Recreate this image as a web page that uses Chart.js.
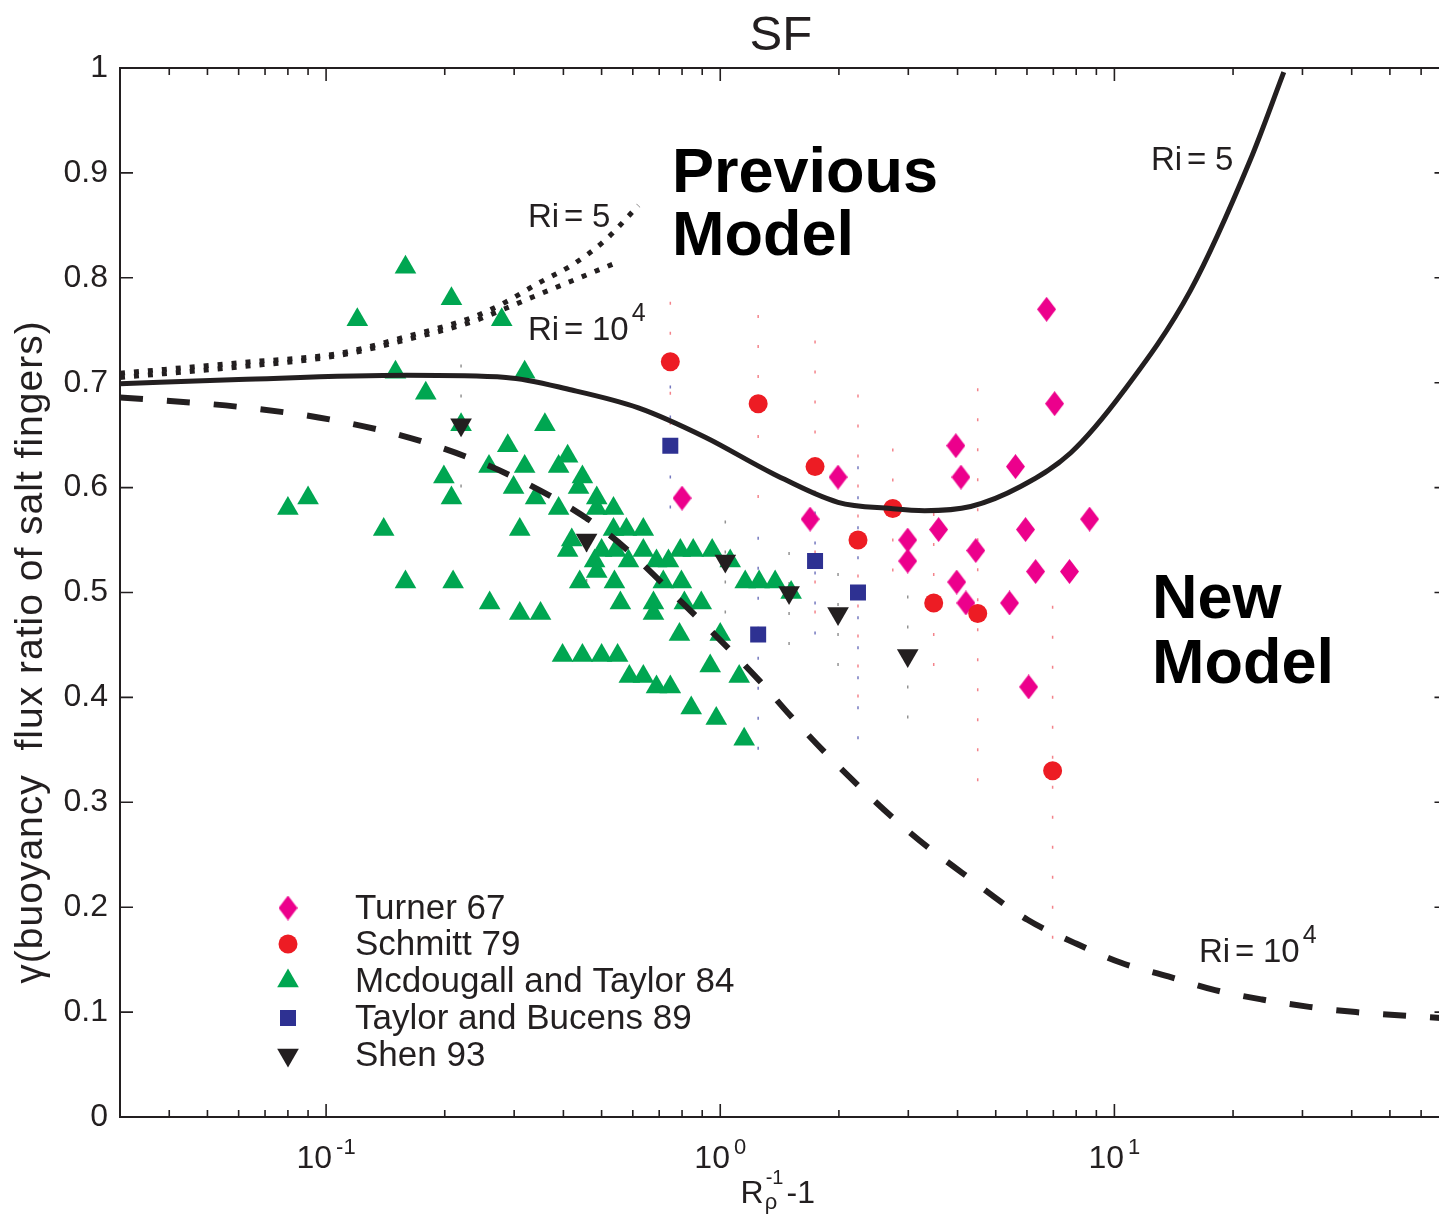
<!DOCTYPE html>
<html>
<head>
<meta charset="utf-8">
<title>SF</title>
<script src="https://cdn.jsdelivr.net/npm/chart.js@4.4.1/dist/chart.umd.min.js"></script>
<style>
  html, body { margin: 0; padding: 0; background: #ffffff; overflow: hidden; }
  #wrap { width: 1439px; height: 1215px; overflow: hidden; position: relative; }
  #sf { position: absolute; left: 0; top: 0; }
</style>
</head>
<body>
<div id="wrap"><canvas id="sf" width="1460" height="1215"></canvas></div>
<script>
// Salt finger flux ratio vs R_rho^-1 - 1 (log x)

// --- data ---
// New model curves
const newRi5X = [0.030, 0.060, 0.160, 0.286, 0.420, 0.620, 0.916, 1.35, 1.99, 2.71, 3.30, 4.32, 5.78, 7.74, 10.6, 15.6, 22.1, 26.9];
const newRi5Y = [0.699, 0.703, 0.707, 0.705, 0.693, 0.676, 0.648, 0.614, 0.586, 0.580, 0.578, 0.582, 0.601, 0.633, 0.693, 0.788, 0.912, 0.996];

const newRi1e4X = [0.030, 0.060, 0.102, 0.175, 0.303, 0.511, 0.797, 1.25, 1.52, 2.00, 3.03, 4.10, 6.02, 7.92, 10.4, 13.7, 18.0, 23.7, 31.2, 41.0, 70.0];
const newRi1e4Y = [0.686, 0.677, 0.665, 0.644, 0.609, 0.558, 0.491, 0.417, 0.381, 0.334, 0.271, 0.233, 0.188, 0.166, 0.147, 0.134, 0.121, 0.112, 0.105, 0.100, 0.094];

// Previous model curves (dotted)
const prevRi5X = [0.030, 0.060, 0.108, 0.160, 0.234, 0.286, 0.346, 0.420, 0.511, 0.620];
const prevRi5Y = [0.709, 0.719, 0.728, 0.744, 0.762, 0.777, 0.795, 0.812, 0.836, 0.869];
const prevRi1e4X = [0.030, 0.060, 0.108, 0.160, 0.234, 0.286, 0.346, 0.420, 0.542];
const prevRi1e4Y = [0.705, 0.715, 0.726, 0.741, 0.758, 0.771, 0.784, 0.797, 0.814];

// Lab data
const turnerX = [6.73, 7.05, 3.96, 5.61, 4.08, 1.99, 0.80, 1.69, 8.65, 3.58, 5.95, 2.99, 4.45, 2.99, 6.31, 7.69, 3.98, 4.20, 5.42, 6.06];
const turnerY = [0.77, 0.68, 0.64, 0.62, 0.61, 0.61, 0.59, 0.57, 0.57, 0.56, 0.56, 0.55, 0.54, 0.53, 0.52, 0.52, 0.51, 0.49, 0.49, 0.41];

const schmittX = [0.747, 1.248, 1.74, 2.236, 2.74, 3.48, 4.50, 6.97];
const schmittY = [0.72, 0.68, 0.62, 0.55, 0.58, 0.49, 0.48, 0.33];

const mcdX = [
  0.080, 0.090, 0.120, 0.140, 0.150, 0.159, 0.159, 0.179, 0.199, 0.208,
  0.208, 0.210, 0.220, 0.259, 0.260, 0.279, 0.289, 0.299, 0.310, 0.310,
  0.319, 0.319, 0.340, 0.350, 0.359, 0.389, 0.389, 0.398, 0.410, 0.410,
  0.420, 0.437, 0.440, 0.447, 0.447, 0.480, 0.486, 0.486, 0.486, 0.500,
  0.500, 0.536, 0.536, 0.539, 0.543, 0.549, 0.558, 0.578, 0.585, 0.588,
  0.638, 0.638, 0.638, 0.677, 0.677, 0.689, 0.689, 0.717, 0.739, 0.747,
  0.792, 0.797, 0.788, 0.811, 0.844, 0.854, 0.895, 0.943, 0.954, 0.977,
  1.000, 1.060, 1.117, 1.150, 1.157, 1.255, 1.378, 1.513
];
const mcdY = [
  0.58, 0.59, 0.76, 0.56, 0.71, 0.81, 0.51, 0.69, 0.61, 0.78,
  0.59, 0.51, 0.66, 0.62, 0.49, 0.76, 0.64, 0.60, 0.56, 0.48,
  0.71, 0.62, 0.59, 0.48, 0.66, 0.62, 0.58, 0.44, 0.63, 0.54,
  0.55, 0.60, 0.51, 0.61, 0.44, 0.53, 0.59, 0.58, 0.52, 0.54,
  0.44, 0.58, 0.56, 0.51, 0.54, 0.44, 0.49, 0.56, 0.53, 0.42,
  0.56, 0.54, 0.42, 0.49, 0.48, 0.53, 0.41, 0.51, 0.53, 0.41,
  0.54, 0.51, 0.46, 0.49, 0.39, 0.54, 0.49, 0.43, 0.54, 0.38,
  0.46, 0.53, 0.42, 0.36, 0.51, 0.51, 0.51, 0.50
];

const taylorX = [0.747, 1.248, 1.74, 2.236];
const taylorY = [0.64, 0.46, 0.53, 0.50];

const shenX = [0.220, 0.458, 1.03, 1.495, 1.99, 2.99];
const shenY = [0.66, 0.55, 0.53, 0.50, 0.48, 0.44];

// faint dotted error bars (low / high)
const schmittBarLo = [0.66, 0.59, 0.48, 0.40, 0.52, 0.43, 0.32, 0.17];
const schmittBarHi = [0.78, 0.77, 0.76, 0.70, 0.65, 0.60, 0.72, 0.49];
const taylorBarLo = [0.58, 0.35, 0.46, 0.36];
const taylorBarHi = [0.70, 0.57, 0.60, 0.64];
const shenBarLo = [0.60, 0.51, 0.48, 0.45, 0.43, 0.38];
const shenBarHi = [0.72, 0.59, 0.58, 0.55, 0.53, 0.50];

// axis labels
const yTicksStep = 0.1;
const xTickVals = [0.1, 1, 10];
const xTickExps = ['-1', '0', '1'];
const legendLabels = ['Turner 67', 'Schmitt 79', 'Mcdougall and Taylor 84', 'Taylor and Bucens 89', 'Shen 93'];
const yTitle = '\u03b3(buoyancy  flux ratio of salt fingers)';

// --- style ---
const FONT = "'Liberation Sans', Arial, Helvetica, sans-serif";
const INK = '#231f20';
const colors = {
  turner: '#ec008c',
  schmitt: '#ed1c24',
  mcd: '#00a651',
  taylor: '#2e3192',
  shen: '#231f20',
  barRed: 'rgba(240, 90, 100, 0.75)',
  barBlue: 'rgba(70, 75, 170, 0.75)',
  barGray: 'rgba(110, 110, 110, 0.75)'
};

function makeDiamond(w, h, color) {
  const c = document.createElement('canvas');
  c.width = w; c.height = h;
  const g = c.getContext('2d');
  g.fillStyle = color;
  g.beginPath();
  g.moveTo(w / 2, 0); g.lineTo(w, h / 2); g.lineTo(w / 2, h); g.lineTo(0, h / 2);
  g.closePath();
  g.fill();
  return c;
}
const diamond = makeDiamond(19, 25, colors.turner);

const pts = (xs, ys) => xs.map((x, i) => ({ x: x, y: ys[i] }));
const bars = (xs, lo, hi) => xs.flatMap((x, i) => [{ x: x, y: lo[i] }, { x: x, y: hi[i] }, { x: x, y: null }]);

function markerSet(label, xs, ys, style, color, radius, rotation, order) {
  return {
    label: label,
    data: pts(xs, ys),
    showLine: false,
    pointStyle: style,
    pointRadius: radius,
    pointRotation: rotation,
    pointBackgroundColor: color,
    pointBorderWidth: 0,
    pointBorderColor: color,
    order: order
  };
}

function curveSet(label, xs, ys, width, dash, order) {
  return {
    label: label,
    data: pts(xs, ys),
    showLine: true,
    borderColor: INK,
    borderWidth: width,
    borderDash: dash,
    borderCapStyle: 'butt',
    cubicInterpolationMode: 'monotone',
    pointRadius: 0,
    order: order
  };
}

function barSet(xs, lo, hi, color) {
  return {
    label: 'bars',
    data: bars(xs, lo, hi),
    showLine: true,
    spanGaps: false,
    borderColor: color,
    borderWidth: 1.5,
    borderDash: [3, 27],
    pointRadius: 0,
    order: 9
  };
}

const markerSets = [
  markerSet('Turner 67', turnerX, turnerY, diamond, colors.turner, 12, 0, 5),
  markerSet('Schmitt 79', schmittX, schmittY, 'circle', colors.schmitt, 9.5, 0, 4),
  markerSet('Mcdougall and Taylor 84', mcdX, mcdY, 'triangle', colors.mcd, 12.5, 0, 3),
  markerSet('Taylor and Bucens 89', taylorX, taylorY, 'rect', colors.taylor, 11.3, 0, 2),
  markerSet('Shen 93', shenX, shenY, 'triangle', colors.shen, 12.5, 180, 1)
];

// --- drawing of frame, ticks and texts ---
const framePlugin = {
  id: 'frame',
  afterDatasetsDraw(chart) {
    const { ctx, chartArea: a, scales: { x, y } } = chart;
    ctx.save();
    ctx.strokeStyle = INK;
    ctx.lineWidth = 2;
    ctx.strokeRect(a.left, a.top, a.right - a.left, a.bottom - a.top);

    ctx.lineWidth = 1.6;
    ctx.beginPath();
    for (let e = -2; e <= 1; e++) {
      for (let m = 1; m <= 9; m++) {
        const v = m * Math.pow(10, e);
        if (v <= x.min || v >= x.max) continue;
        const px = x.getPixelForValue(v);
        const len = m === 1 ? 13 : 7;
        ctx.moveTo(px, a.bottom); ctx.lineTo(px, a.bottom - len);
        ctx.moveTo(px, a.top); ctx.lineTo(px, a.top + len);
      }
    }
    y.ticks.forEach(t => {
      const py = y.getPixelForValue(t.value);
      ctx.moveTo(a.left, py); ctx.lineTo(a.left + 13, py);
      ctx.moveTo(a.right, py); ctx.lineTo(a.right - 13, py);
    });
    ctx.stroke();
    ctx.restore();
  }
};

function drawRi(ctx, x, base, value, exp) {
  ctx.font = '33px ' + FONT;
  ctx.fillText('Ri', x, base);
  ctx.fillText('=', x + 36, base);
  ctx.fillText(value, x + 64, base);
  if (exp) {
    const w = ctx.measureText(value).width;
    ctx.font = '25px ' + FONT;
    ctx.fillText(exp, x + 64 + w + 3, base - 19);
  }
}

const textPlugin = {
  id: 'texts',
  afterDraw(chart) {
    const { ctx, chartArea: a, scales: { x } } = chart;
    const cx = (a.left + a.right) / 2;
    ctx.save();
    ctx.fillStyle = INK;
    ctx.textBaseline = 'alphabetic';

    // title
    ctx.textAlign = 'center';
    ctx.font = '49px ' + FONT;
    ctx.fillText('SF', cx - 3, 50);

    // y axis title
    ctx.save();
    ctx.translate(31, 652);
    ctx.rotate(-Math.PI / 2);
    ctx.textBaseline = 'middle';
    ctx.font = '39px ' + FONT;
    if ('letterSpacing' in ctx) ctx.letterSpacing = '1px';
    ctx.fillText(yTitle, 0, 0);
    ctx.restore();
    ctx.textAlign = 'left';

    // x tick labels 10^n
    xTickVals.forEach((v, i) => {
      const px = x.getPixelForValue(v);
      ctx.font = '32px ' + FONT;
      const w10 = ctx.measureText('10').width;
      ctx.font = '22px ' + FONT;
      const we = ctx.measureText(xTickExps[i]).width;
      const start = px - (w10 + 4 + we) / 2;
      ctx.font = '32px ' + FONT;
      ctx.fillText('10', start, 1168);
      ctx.font = '22px ' + FONT;
      ctx.fillText(xTickExps[i], start + w10 + 4, 1154);
    });

    // x axis title  R_rho^-1 -1
    ctx.font = '32px ' + FONT;
    const wR = ctx.measureText('R').width;
    const wM = ctx.measureText('-1').width;
    ctx.font = '20px ' + FONT;
    const wS = ctx.measureText('-1').width;
    const sx = cx - 6 - (wR + 2 + wS + 3 + wM) / 2;
    ctx.font = '32px ' + FONT;
    ctx.fillText('R', sx, 1203);
    ctx.font = '20px ' + FONT;
    ctx.fillText('-1', sx + wR + 2, 1184);
    ctx.font = '22px ' + FONT;
    ctx.fillText('\u03c1', sx + wR + 1, 1209);
    ctx.font = '32px ' + FONT;
    ctx.fillText('-1', sx + wR + 2 + wS + 3, 1203);

    // curve labels
    drawRi(ctx, 528, 227, '5');
    drawRi(ctx, 528, 340, '10', '4');
    drawRi(ctx, 1151, 170, '5');
    drawRi(ctx, 1199, 962, '10', '4');

    // model labels
    ctx.fillStyle = '#000000';
    ctx.font = 'bold 63px ' + FONT;
    ctx.fillText('Previous', 672, 192);
    ctx.fillText('Model', 672, 255);
    ctx.fillText('New', 1152, 618);
    ctx.fillText('Model', 1152, 683);

    // legend
    const rowY = [908, 944, 981, 1018, 1055];
    ctx.textBaseline = 'middle';
    markerSets.forEach((ds, i) => {
      ctx.fillStyle = ds.pointBackgroundColor;
      Chart.helpers.drawPoint(ctx, {
        pointStyle: ds.pointStyle,
        radius: ds.pointRadius,
        rotation: ds.pointRotation,
        borderWidth: 0
      }, 288, rowY[i]);
      ctx.fillStyle = INK;
      ctx.font = '35px ' + FONT;
      ctx.fillText(legendLabels[i], 355, rowY[i] + 1);
    });
    ctx.restore();
  }
};

new Chart(document.getElementById('sf'), {
  type: 'scatter',
  data: {
    datasets: [
      curveSet('New model Ri=5', newRi5X, newRi5Y, 5, [], 0),
      curveSet('New model Ri=1e4', newRi1e4X, newRi1e4Y, 6, [23, 24], 0),
      curveSet('Previous model Ri=5', prevRi5X, prevRi5Y, 5, [5, 9], 0),
      curveSet('Previous model Ri=1e4', prevRi1e4X, prevRi1e4Y, 5, [5, 9], 0),
      ...markerSets,
      barSet(schmittX, schmittBarLo, schmittBarHi, colors.barRed),
      barSet(taylorX, taylorBarLo, taylorBarHi, colors.barBlue),
      barSet(shenX, shenBarLo, shenBarHi, colors.barGray)
    ]
  },
  options: {
    responsive: false,
    animation: false,
    devicePixelRatio: 1,
    // the right edge of the axes box lies just beyond the visible picture
    layout: { padding: { top: 68, right: 0, left: 0, bottom: 0 } },
    plugins: {
      legend: { display: false },
      tooltip: { enabled: false },
      title: { display: false }
    },
    scales: {
      x: {
        type: 'logarithmic',
        min: 0.03,
        max: 70,
        position: 'bottom',
        ticks: { display: false },
        grid: { display: false, drawTicks: false },
        border: { display: false },
        afterFit: s => { s.height = 98; }
      },
      y: {
        type: 'linear',
        min: 0,
        max: 1,
        position: 'left',
        ticks: {
          stepSize: yTicksStep,
          padding: 12,
          color: INK,
          font: { family: FONT, size: 32 },
          callback: v => String(+v.toFixed(1))
        },
        grid: { display: false, drawTicks: false },
        border: { display: false },
        afterFit: s => { s.width = 120; }
      }
    }
  },
  plugins: [framePlugin, textPlugin]
});
</script>
</body>
</html>
